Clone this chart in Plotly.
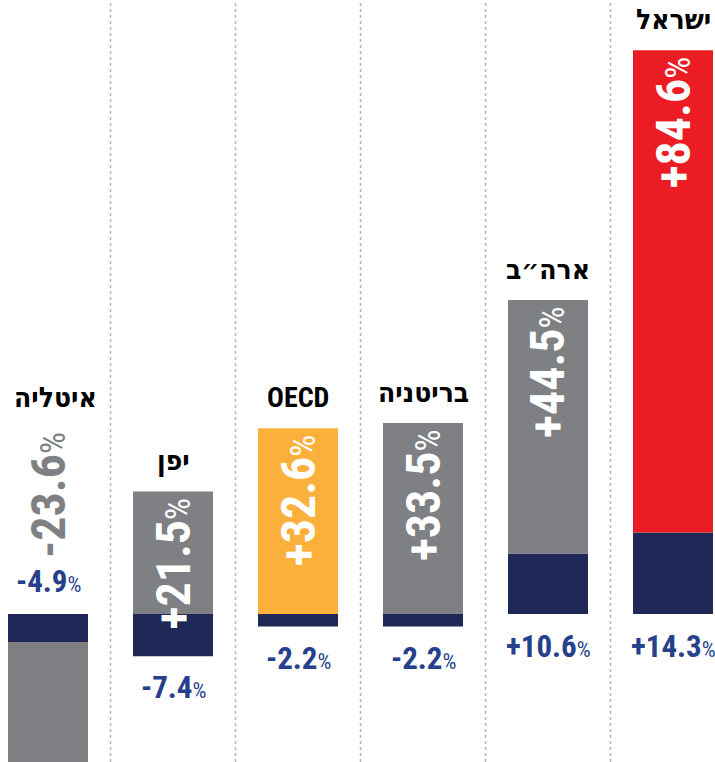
import plotly.graph_objects as go

# ---- data ----
countries = ["איטליה", "יפן", "OECD", "בריטניה", "ארה״ב", "ישראל"]
big_values = [-23.6, 21.5, 32.6, 33.5, 44.5, 84.6]
small_values = [-4.9, -7.4, -2.2, -2.2, 10.6, 14.3]
big_colors = ["#7e8083", "#7e8083", "#fbb03b", "#7e8083", "#7e8083", "#ec1c24"]

NAVY = "#1f2857"
NAVY_TXT = "#27408b"
GRAY_TXT = "#7e8083"
FONT = "Roboto Condensed, Liberation Sans Narrow, DejaVu Sans Condensed, Arial Narrow, sans-serif"

W, H = 715, 762
BASE_PX = 614          # pixel row of the zero line
K = 5.7                # pixels per percentage point
y_max = BASE_PX / K
y_min = -(H - BASE_PX) / K
x_step = 125
x0_px = 48
x_range = [-x0_px / x_step, (W - x0_px) / x_step]

xs = list(range(len(countries)))

fig = go.Figure()
fig.add_trace(go.Bar(x=xs, y=small_values, marker=dict(color=NAVY, line=dict(width=0)),
                     width=0.64, hoverinfo="skip"))
fig.add_trace(go.Bar(x=xs, y=big_values, marker=dict(color=big_colors, line=dict(width=0)),
                     width=0.64, hoverinfo="skip"))


def fmt(v):
    return f"{v:+.1f}"


BIG = 48
SMALL = 31
CTRY = 28


def label(v, size):
    pct = round(size * 0.72)
    return f"<b>{fmt(v)}</b><span style='font-size:{pct}px'>%</span>"


ann = []
for i, (c, b, s) in enumerate(zip(countries, big_values, small_values)):
    big_txt = label(b, BIG)
    small_txt = label(s, SMALL)
    if b > 0:
        top = b + (s if s > 0 else 0)
        ann.append(dict(x=i, y=top, text=big_txt, textangle=-90, yanchor="top", xanchor="center",
                        yshift=-4, showarrow=False, font=dict(family=FONT, size=BIG, color="white")))
        ann.append(dict(x=i, y=top, text=f"<b>{c}</b>", yanchor="bottom", xanchor="center",
                        yshift=12, showarrow=False, font=dict(family=FONT, size=CTRY, color="black")))
        if s < 0:
            ann.append(dict(x=i, y=s, text=small_txt, yanchor="top", xanchor="center",
                            yshift=-11, showarrow=False, font=dict(family=FONT, size=SMALL, color=NAVY_TXT)))
        else:
            ann.append(dict(x=i, y=0, text=small_txt, yanchor="top", xanchor="center",
                            yshift=-12, showarrow=False, font=dict(family=FONT, size=SMALL, color=NAVY_TXT)))
    else:
        ann.append(dict(x=i, y=0, text=small_txt, yanchor="bottom", xanchor="center",
                        yshift=12, showarrow=False, font=dict(family=FONT, size=SMALL, color=NAVY_TXT)))
        ann.append(dict(x=i, y=0, text=big_txt, textangle=-90, yanchor="bottom", xanchor="center",
                        yshift=54, showarrow=False, font=dict(family=FONT, size=BIG, color=GRAY_TXT)))
        ann.append(dict(x=i, y=0, text=f"<b>{c}</b>", yanchor="bottom", xanchor="center",
                        yshift=198, xshift=7, showarrow=False,
                        font=dict(family=FONT, size=CTRY, color="black")))

shapes = []
for i in range(len(countries) - 1):
    shapes.append(dict(type="line", xref="x", yref="paper", x0=i + 0.5, x1=i + 0.5, y0=0, y1=1,
                       line=dict(color="#b5b5b5", width=1.5, dash="dot")))

fig.update_layout(
    width=W, height=H, barmode="relative", showlegend=False,
    margin=dict(l=0, r=0, t=0, b=0),
    paper_bgcolor="white", plot_bgcolor="white",
    xaxis=dict(range=x_range, visible=False, fixedrange=True),
    yaxis=dict(range=[y_min, y_max], visible=False, fixedrange=True),
    annotations=ann, shapes=shapes,
)
fig.write_html("out.html",
               config={"displayModeBar": False, "staticPlot": True},
               post_script="document.body.style.margin='0';document.body.style.overflow='hidden';")
